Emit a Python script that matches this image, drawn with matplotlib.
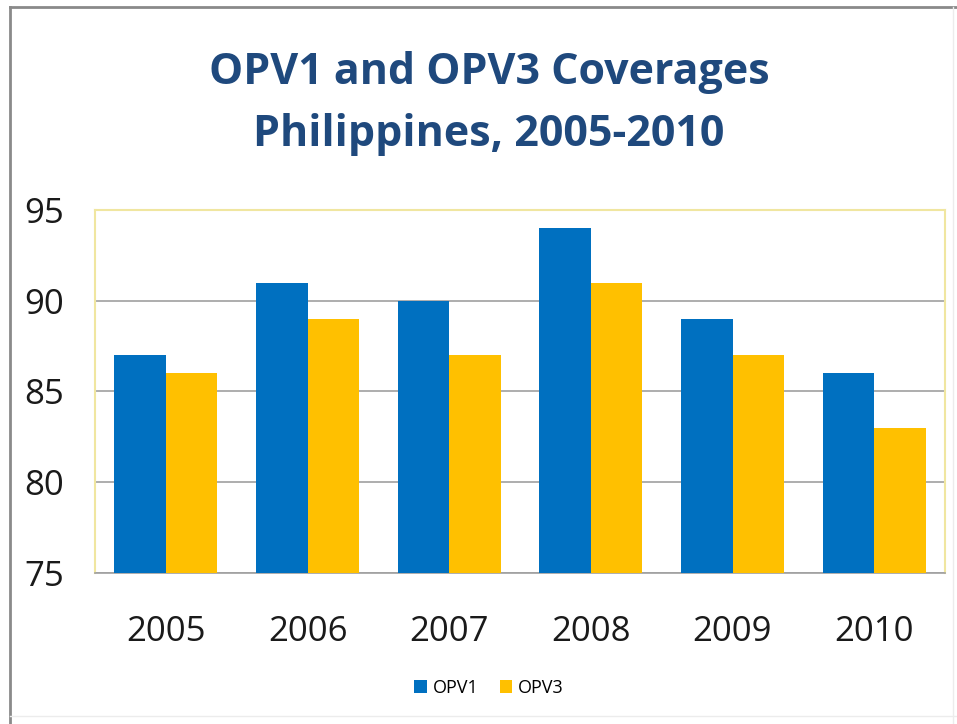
import matplotlib
matplotlib.use("Agg")
import matplotlib.pyplot as plt
import numpy as np
from matplotlib.lines import Line2D

years = ["2005", "2006", "2007", "2008", "2009", "2010"]
opv1 = [87, 91, 90, 94, 89, 86]
opv3 = [86, 89, 87, 91, 87, 83]
yticks = [75, 80, 85, 90, 95]

W, H = 957, 724
fig = plt.figure(figsize=(W/100, H/100), dpi=100)
fig.patch.set_facecolor("white")

# outer frame lines
fig.add_artist(Line2D([10/W, 10/W], [0, 1 - 7/H], transform=fig.transFigure, color="#8a8a8a", lw=2))
fig.add_artist(Line2D([10/W, 1], [1 - 7/H, 1 - 7/H], transform=fig.transFigure, color="#8a8a8a", lw=2))
fig.add_artist(Line2D([953/W, 953/W], [0, 1 - 7/H], transform=fig.transFigure, color="#ececec", lw=1))
fig.add_artist(Line2D([10/W, 1], [1 - 716/H, 1 - 716/H], transform=fig.transFigure, color="#ececec", lw=1))

left, right, top, bottom = 95, 945, 210, 573
ax = fig.add_axes([left/W, 1 - bottom/H, (right-left)/W, (bottom-top)/H])

x = np.arange(len(years))
bw = 0.363
ax.bar(x - bw/2, opv1, width=bw, color="#0070C0", label="OPV1", zorder=3)
ax.bar(x + bw/2, opv3, width=bw, color="#FFC000", label="OPV3", zorder=3)

ax.set_xlim(-0.5, len(years) - 0.5)
ax.set_ylim(75, 95)
ax.set_yticks(yticks)
ax.set_yticklabels([str(t) for t in yticks], fontsize=25, family="Open Sans", color="#1a1a1a")
ax.set_xticks(x)
ax.set_xticklabels(years, fontsize=25, family="Open Sans", color="#1a1a1a")
ax.tick_params(axis="y", length=0, pad=22)
ax.tick_params(axis="x", length=0, pad=30)
ax.yaxis.grid(True, color="#a0a0a0", lw=1.2, zorder=0)
for s in ["top", "right", "left"]:
    ax.spines[s].set_color("#f0e6a0")
    ax.spines[s].set_linewidth(1.5)
ax.spines["bottom"].set_color("#a0a0a0")
ax.spines["bottom"].set_linewidth(1.2)

fig.text(489/W, 1 - 72/H, "OPV1 and OPV3 Coverages", ha="center", va="center",
         fontsize=31, fontweight="bold", family="Open Sans", color="#1F497D")
fig.text(489/W, 1 - 135/H, "Philippines, 2005-2010", ha="center", va="center",
         fontsize=31, fontweight="bold", family="Open Sans", color="#1F497D")

leg = fig.legend(loc="center", bbox_to_anchor=(489/W, 1 - 688/H), ncol=2, frameon=False,
                 prop={"family": "Open Sans", "size": 13}, handlelength=0.7, handleheight=0.7,
                 columnspacing=1.2, handletextpad=0.3)

fig.savefig("out.png", dpi=100, facecolor="white")
